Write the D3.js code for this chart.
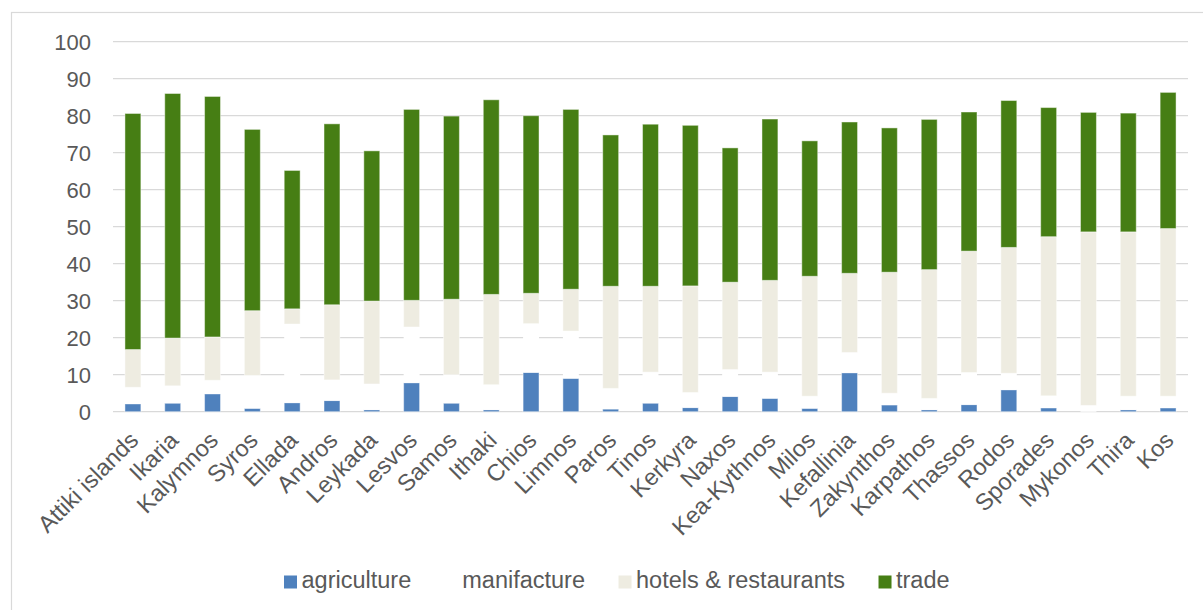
<!DOCTYPE html>
<html>
<head>
<meta charset="utf-8">
<script src="https://cdn.jsdelivr.net/npm/d3@7/dist/d3.min.js"></script>
<style>
  html, body { margin: 0; padding: 0; background: #ffffff; }
  svg { display: block; font-family: "Liberation Sans", Arial, sans-serif; }
</style>
</head>
<body>
<svg id="chart" width="1203" height="610"></svg>
<script>
// Employment shares by sector for island regions (%)
const categories = ["Attiki islands", "Ikaria", "Kalymnos", "Syros", "Ellada", "Andros", "Leykada",
  "Lesvos", "Samos", "Ithaki", "Chios", "Limnos", "Paros", "Tinos", "Kerkyra", "Naxos", "Kea-Kythnos",
  "Milos", "Kefallinia", "Zakynthos", "Karpathos", "Thassos", "Rodos", "Sporades", "Mykonos", "Thira", "Kos"];

const agriculture = [2.1, 2.3, 4.8, 0.9, 2.4, 3.0, 0.5, 7.8, 2.3, 0.5, 10.6, 9.0, 0.7, 2.3,
  1.1, 4.1, 3.6, 0.9, 10.5, 1.8, 0.5, 1.9, 5.9, 1.0, 0.0, 0.5, 1.0];
const manifacture = [4.5, 4.7, 3.7, 8.9, 21.3, 5.6, 7.0, 15.1, 7.7, 6.8, 13.2, 12.8, 5.6, 8.4,
  4.1, 7.3, 7.1, 3.3, 5.5, 3.2, 3.1, 8.7, 4.5, 3.3, 1.7, 3.7, 3.2];
const hotels = [10.2, 12.9, 11.7, 17.5, 4.1, 20.3, 22.4, 7.2, 20.4, 24.4, 8.2, 11.3, 27.6, 23.2,
  28.8, 23.6, 24.8, 32.4, 21.4, 32.7, 34.8, 32.8, 34.0, 43.0, 46.9, 44.4, 45.3];
const trade = [63.8, 66.1, 65.0, 49.0, 37.4, 48.9, 40.6, 51.6, 49.5, 52.6, 48.0, 48.6, 40.9, 43.8,
  43.4, 36.3, 43.6, 36.6, 40.9, 39.0, 40.6, 37.6, 39.7, 34.9, 32.3, 32.1, 36.8];

const seriesNames = ["agriculture", "manifacture", "hotels & restaurants", "trade"];
const yTicks = [0, 10, 20, 30, 40, 50, 60, 70, 80, 90, 100];

const colors = {
  "agriculture": "#4f81bd",
  "manifacture": "#ffffff",
  "hotels & restaurants": "#eeece1",
  "trade": "#467e14"
};

const rows = categories.map((c, i) => ({
  category: c,
  "agriculture": agriculture[i],
  "manifacture": manifacture[i],
  "hotels & restaurants": hotels[i],
  "trade": trade[i]
}));

const svg = d3.select("#chart");
const textColor = "#595959";
const gridColor = "#d9d9d9";

// chart frame
svg.append("rect")
  .attr("x", 11.5).attr("y", 12.5)
  .attr("width", 1210).attr("height", 620)
  .attr("fill", "none")
  .attr("stroke", gridColor)
  .attr("stroke-width", 1.2);

const plot = { left: 113, right: 1188, top: 41.7, bottom: 411.7 };

const x = d3.scaleBand()
  .domain(categories)
  .range([plot.left, plot.right])
  .paddingInner(0.6)
  .paddingOuter(0.3);

const y = d3.scaleLinear()
  .domain([0, 100])
  .range([plot.bottom, plot.top]);

// gridlines
svg.append("g")
  .selectAll("line")
  .data(yTicks)
  .join("line")
  .attr("x1", plot.left).attr("x2", plot.right)
  .attr("y1", d => y(d)).attr("y2", d => y(d))
  .attr("stroke", gridColor)
  .attr("stroke-width", 1.3);

// y axis labels
const yAxis = d3.axisLeft(y).tickValues(yTicks).tickSize(0).tickPadding(0);
const yg = svg.append("g")
  .attr("transform", `translate(${91},0)`)
  .call(yAxis);
yg.select(".domain").remove();
yg.selectAll("text")
  .attr("fill", textColor)
  .attr("font-size", 22)
  .attr("font-family", "Liberation Sans, Arial, sans-serif")
  .attr("dy", "0.35em");

// stacked bars
const stack = d3.stack().keys(seriesNames);
const stacked = stack(rows);

svg.append("g")
  .selectAll("g")
  .data(stacked)
  .join("g")
  .attr("fill", d => colors[d.key])
  .attr("stroke", d => d.key === "manifacture" ? "none" : "rgba(255,255,255,0.45)")
  .attr("stroke-width", 1)
  .selectAll("rect")
  .data(d => d)
  .join("rect")
  .attr("x", d => x(d.data.category))
  .attr("width", x.bandwidth())
  .attr("y", d => y(d[1]))
  .attr("height", d => Math.max(0, y(d[0]) - y(d[1])));

// x axis labels, rotated
const xAxis = d3.axisBottom(x).tickSize(0).tickPadding(0);
const xg = svg.append("g")
  .attr("transform", `translate(0,${plot.bottom})`)
  .call(xAxis);
xg.select(".domain").remove();
xg.selectAll("text")
  .attr("fill", textColor)
  .attr("font-size", 23.5)
  .attr("font-family", "Liberation Sans, Arial, sans-serif")
  .attr("text-anchor", "end")
  .attr("y", 0)
  .attr("dy", "0")
  .attr("transform", "translate(7,30) rotate(-45)");

// legend
const legend = svg.append("g").attr("transform", "translate(0,588)");
let cursor = 284;
seriesNames.forEach(name => {
  const item = legend.append("g");
  item.append("rect")
    .attr("x", cursor).attr("y", -12.5)
    .attr("width", 13).attr("height", 13)
    .attr("fill", colors[name]);
  const t = item.append("text")
    .attr("x", cursor + 17.5)
    .attr("y", 0)
    .attr("fill", textColor)
    .attr("font-size", 23.5)
    .attr("font-family", "Liberation Sans, Arial, sans-serif")
    .text(name);
  cursor += 17.5 + t.node().getComputedTextLength() + 33.5;
});
</script>
</body>
</html>
